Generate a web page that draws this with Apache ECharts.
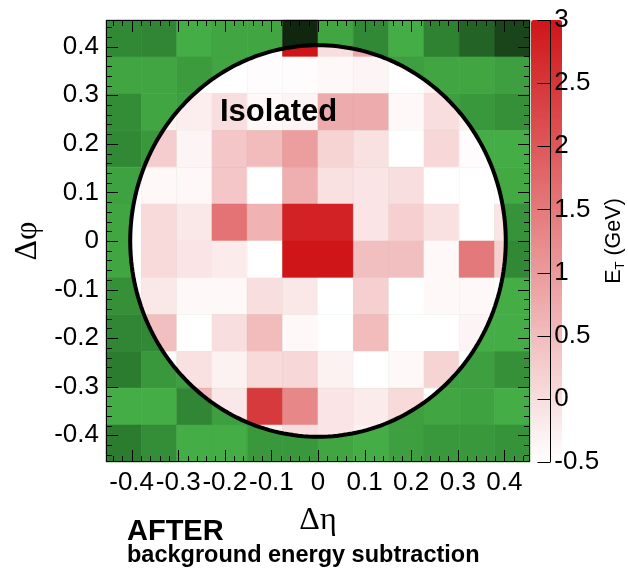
<!DOCTYPE html>
<html>
<head>
<meta charset="utf-8">
<script src="https://cdn.jsdelivr.net/npm/echarts@6/dist/echarts.min.js"></script>
<style>
  html, body { margin: 0; padding: 0; background: #fff; }
  #chart { width: 628px; height: 570px; }
</style>
</head>
<body>
<div id="chart"></div>
<script>
// bin edges (eta left->right, phi top->bottom)
const etaEdges = [-0.455, -0.379, -0.303, -0.2275, -0.152, -0.076, 0, 0.076, 0.152, 0.2275, 0.303, 0.379, 0.455]
const phiEdges = [0.455, 0.379, 0.303, 0.2275, 0.152, 0.076, 0, -0.076, -0.152, -0.2275, -0.303, -0.379, -0.455]

// E_T per cell (GeV), rows top->bottom
const etValues = [
  [-0.5, -0.5, -0.5, -0.5, -0.5, 3.0, 0.0, 0.8, -0.5, -0.5, -0.5, -0.5],
  [-0.5, -0.5, -0.5, -0.5, -0.45, -0.45, -0.4, -0.35, -0.5, -0.3, -0.5, -0.5],
  [-0.5, -0.3, -0.25, 0.0, -0.4, -0.35, 0.75, 0.75, -0.4, 0.0, -0.3, -0.5],
  [-0.5, 0.25, -0.35, 0.35, 0.5, 0.95, 0.15, -0.05, -0.5, 0.1, -0.45, -0.5],
  [-0.5, -0.4, -0.4, 0.35, -0.5, 0.7, -0.05, -0.1, 0.0, -0.5, -0.5, -0.5],
  [-0.5, 0.05, -0.15, 1.6, 0.65, 2.8, 2.8, -0.1, 0.2, -0.05, -0.5, -0.1],
  [-0.5, 0.05, -0.1, -0.2, -0.5, 3.0, 3.0, 0.45, 0.45, -0.4, 1.5, 0.2],
  [-0.5, -0.15, -0.4, -0.4, 0.0, -0.15, -0.5, 0.2, -0.5, -0.4, -0.4, -0.5],
  [-0.5, 0.45, -0.5, 0.0, 0.5, -0.4, -0.5, 0.5, -0.5, -0.5, -0.35, -0.5],
  [-0.5, -0.5, -0.05, -0.3, 0.05, 0.1, -0.3, -0.5, -0.4, 0.15, -0.5, -0.5],
  [-0.5, -0.5, 0.6, -0.15, 2.45, 1.3, -0.1, -0.2, 0.05, -0.5, -0.5, -0.5],
  [-0.5, -0.5, -0.5, -0.5, -0.3, 0.0, -0.1, -0.3, -0.5, -0.5, -0.5, -0.5]
]

// background (outside cone) shade level, 0 = bright green .. 6 = near black
const bgShade = [
  [2.6, 2.7, 0, 0.5, 0.5, 6, 0.5, 2.5, 0, 3, 4, 5],
  [0.5, 0.5, 1.2, 0.5, 1, 1, 1, 1, 1, 0.5, 0.5, 1],
  [2.3, 0.5, 1, 1, 1, 1, 1, 1, 1, 1, 1.5, 2],
  [2.5, 1.5, 1, 1, 1, 1, 1, 1, 1, 1, 0, 0],
  [0.8, 1, 1, 1, 1, 1, 1, 1, 1, 1, 1, 0.3],
  [0.5, 1, 1, 1, 1, 1, 1, 1, 1, 1, 1, 1.8],
  [0.5, 1, 1, 1, 1, 1, 1, 1, 1, 1, 1, 2.5],
  [2, 1, 1, 1, 1, 1, 1, 1, 1, 1, 1, 0],
  [2.7, 2.5, 1, 1, 1, 1, 1, 1, 1, 1, 0, 0],
  [3.2, 1.5, 1, 1, 1, 1, 1, 1, 1, 1, 1, 2],
  [0, 0, 2.7, 1, 1, 1, 1, 1, 1, 0.5, 0.8, 0],
  [3.2, 2.2, 0, 0, 1.5, 1.5, 0.5, 0, 1, 1.5, 1.5, 1.8]
]

const coneRadius = 0.403
const axisLimit = 0.455
const majorTicks = [-0.4, -0.3, -0.2, -0.1, 0, 0.1, 0.2, 0.3, 0.4]
const minorTicks = [-0.44, -0.42, -0.38, -0.36, -0.34, -0.32, -0.28, -0.26, -0.24, -0.22, -0.18, -0.16, -0.14, -0.12,
  -0.08, -0.06, -0.04, -0.02, 0.02, 0.04, 0.06, 0.08, 0.12, 0.14, 0.16, 0.18, 0.22, 0.24, 0.26, 0.28,
  0.32, 0.34, 0.36, 0.38, 0.42, 0.44]
const colorbarTicks = [-0.5, 0, 0.5, 1, 1.5, 2, 2.5, 3]

const FONT = "'Liberation Sans', Arial, sans-serif"
const SERIF = "'Liberation Serif', 'DejaVu Serif', serif"

function toCells(grid) {
  const out = []
  grid.forEach((row, r) => row.forEach((v, c) => {
    out.push([etaEdges[c], etaEdges[c + 1], phiEdges[r + 1], phiEdges[r], v])
  }))
  return out
}

function conePoints(api) {
  const pts = []
  for (let i = 0; i < 240; i++) {
    const a = i / 240 * 2 * Math.PI
    pts.push(api.coord([coneRadius * Math.cos(a), coneRadius * Math.sin(a)]))
  }
  return pts
}

// Sutherland-Hodgman: cut a cell polygon down to the part inside the (convex) cone
function clipToPolygon(subject, clip) {
  const c = clip.reduce((s, p) => [s[0] + p[0] / clip.length, s[1] + p[1] / clip.length], [0, 0])
  let out = subject
  for (let i = 0; i < clip.length && out.length; i++) {
    const a = clip[i]
    const b = clip[(i + 1) % clip.length]
    const side = (p) => (b[0] - a[0]) * (p[1] - a[1]) - (b[1] - a[1]) * (p[0] - a[0])
    const ref = side(c)
    const inside = (p) => side(p) * ref >= 0
    const cross = (p, q) => {
      const sp = side(p), sq = side(q)
      const t = sp / (sp - sq)
      return [p[0] + (q[0] - p[0]) * t, p[1] + (q[1] - p[1]) * t]
    }
    const input = out
    out = []
    for (let j = 0; j < input.length; j++) {
      const p = input[j]
      const q = input[(j + 1) % input.length]
      if (inside(q)) {
        if (!inside(p)) out.push(cross(p, q))
        out.push(q)
      } else if (inside(p)) {
        out.push(cross(p, q))
      }
    }
  }
  return out
}

function cellItem(insideCone) {
  return (params, api) => {
    const p0 = api.coord([api.value(0), api.value(3)])
    const p1 = api.coord([api.value(1), api.value(2)])
    const color = api.visual('color')
    const style = { fill: color, stroke: color, lineWidth: 0.6 }
    if (!insideCone) {
      return { type: 'rect', shape: { x: p0[0], y: p0[1], width: p1[0] - p0[0], height: p1[1] - p0[1] }, style }
    }
    const rect = [[p0[0], p0[1]], [p1[0], p0[1]], [p1[0], p1[1]], [p0[0], p1[1]]]
    const pts = clipToPolygon(rect, conePoints(api))
    if (pts.length < 3) return null
    return { type: 'polygon', shape: { points: pts }, style }
  }
}

// one tick mark per data item: [value, side, length]
const tickData = []
majorTicks.forEach((v) => ['b', 't', 'l', 'r'].forEach((s) => tickData.push([v, s, 12])))
minorTicks.forEach((v) => ['b', 't', 'l', 'r'].forEach((s) => tickData.push([v, s, 6])))

function tickItem(params, api) {
  const item = tickData[params.dataIndex]
  const v = item[0], side = item[1], len = item[2]
  const lo = api.coord([-axisLimit, -axisLimit])
  const hi = api.coord([axisLimit, axisLimit])
  let x1, y1, x2, y2
  if (side === 'b' || side === 't') {
    x1 = x2 = Math.round(api.coord([v, 0])[0]) + 0.5
    y1 = side === 'b' ? lo[1] : hi[1]
    y2 = side === 'b' ? y1 - len : y1 + len
  } else {
    y1 = y2 = Math.round(api.coord([0, v])[1]) + 0.5
    x1 = side === 'l' ? lo[0] : hi[0]
    x2 = side === 'l' ? x1 + len : x1 - len
  }
  return { type: 'line', shape: { x1, y1, x2, y2 }, style: { stroke: '#000', lineWidth: 1 } }
}

function colorbarAxisItem(params, api) {
  const v = api.value(1)
  const right = api.coord([1, v])
  const x = Math.round(right[0]) - 0.5
  const y = Math.round(right[1]) + 0.5
  const children = [{ type: 'line', shape: { x1: x, y1: y, x2: x - 13, y2: y }, style: { stroke: '#000', lineWidth: 1 } }]
  if (params.dataIndex === 0) {
    const top = api.coord([1, 3])
    children.push({ type: 'line', shape: { x1: x, y1: top[1], x2: x, y2: right[1] }, style: { stroke: '#000', lineWidth: 1 } })
  }
  return { type: 'group', children }
}

const labelStyle = { fontFamily: FONT, fontSize: 26, color: '#000' }

const chart = echarts.init(document.getElementById('chart'))
chart.setOption({
  animation: false,
  backgroundColor: '#fff',
  grid: [
    { left: 106, top: 20, width: 424, height: 442 },
    { left: 531, top: 20, width: 31, height: 442 },
  ],
  xAxis: [
    {
      gridIndex: 0,
      type: 'value',
      min: -axisLimit,
      max: axisLimit,
      axisLine: { show: false, onZero: false },
      axisTick: { show: false },
      splitLine: { show: false },
      axisLabel: Object.assign({ customValues: majorTicks, margin: 8 }, labelStyle),
      name: 'Δη',
      nameLocation: 'middle',
      nameGap: 43,
      nameTextStyle: { fontFamily: SERIF, fontSize: 32, color: '#000' },
    },
    { gridIndex: 1, type: 'value', show: false, min: 0, max: 1, axisLine: { onZero: false } },
  ],
  yAxis: [
    {
      gridIndex: 0,
      type: 'value',
      min: -axisLimit,
      max: axisLimit,
      axisLine: { show: false, onZero: false },
      axisTick: { show: false },
      splitLine: { show: false },
      axisLabel: Object.assign({ customValues: majorTicks, margin: 7 }, labelStyle),
      name: 'Δφ',
      nameLocation: 'middle',
      nameRotate: 90,
      nameGap: 62,
      nameTextStyle: { fontFamily: SERIF, fontSize: 32, color: '#000' },
    },
    {
      gridIndex: 1,
      type: 'value',
      position: 'right',
      min: -0.5,
      max: 3,
      interval: 0.5,
      z: 8,
      axisLine: { show: false, onZero: false },
      axisTick: { show: false },
      splitLine: { show: false },
      axisLabel: Object.assign({ margin: 3 }, labelStyle),
      name: '{e|E}{t|T}{e| (GeV)}',
      nameLocation: 'middle',
      nameRotate: 90,
      nameGap: 38,
      nameTextStyle: {
        color: '#000',
        rich: {
          e: { fontFamily: FONT, fontSize: 21.5, color: '#000' },
          t: { fontFamily: FONT, fontSize: 13, color: '#000', verticalAlign: 'bottom', padding: [13, 0, 0, 0] },
        },
      },
    },
  ],
  visualMap: [
    {
      type: 'continuous',
      seriesIndex: 0,
      dimension: 4,
      min: 0,
      max: 6,
      show: false,
      inRange: { color: ['#45ad45', '#2e8232', '#10260f'] },
    },
    {
      type: 'continuous',
      seriesIndex: 1,
      dimension: 4,
      min: -0.5,
      max: 3,
      show: true,
      orient: 'vertical',
      left: 531,
      top: 20,
      padding: 0,
      itemWidth: 31,
      itemHeight: 442,
      calculable: false,
      hoverLink: false,
      inRange: { color: ['#ffffff', '#d01518'] },
    },
  ],
  series: [
    {
      name: 'background',
      type: 'custom',
      xAxisIndex: 0,
      yAxisIndex: 0,
      z: 1,
      encode: { x: [0, 1], y: [2, 3] },
      renderItem: cellItem(false),
      data: toCells(bgShade),
    },
    {
      name: 'E_T',
      type: 'custom',
      xAxisIndex: 0,
      yAxisIndex: 0,
      z: 2,
      encode: { x: [0, 1], y: [2, 3] },
      renderItem: cellItem(true),
      data: toCells(etValues),
    },
    {
      name: 'cone',
      type: 'custom',
      xAxisIndex: 0,
      yAxisIndex: 0,
      z: 3,
      encode: { x: 0, y: 1 },
      renderItem: (params, api) => ({
        type: 'polygon',
        shape: { points: conePoints(api) },
        style: { fill: 'none', stroke: '#000', lineWidth: 4 },
      }),
      data: [[0, 0]],
    },
    {
      name: 'frame',
      type: 'custom',
      xAxisIndex: 0,
      yAxisIndex: 0,
      z: 6,
      clip: false,
      silent: true,
      renderItem: (params, api) => {
        const lo = api.coord([-axisLimit, -axisLimit])
        const hi = api.coord([axisLimit, axisLimit])
        return {
          type: 'rect',
          shape: { x: Math.round(lo[0]) + 0.5, y: Math.round(hi[1]) + 0.5, width: Math.round(hi[0] - lo[0]) - 1, height: Math.round(lo[1] - hi[1]) - 1 },
          style: { fill: 'none', stroke: '#000', lineWidth: 1 },
        }
      },
      data: [[0, 0]],
    },
    {
      name: 'ticks',
      type: 'custom',
      xAxisIndex: 0,
      yAxisIndex: 0,
      z: 6,
      clip: false,
      silent: true,
      renderItem: tickItem,
      data: tickData.map(() => [0, 0]),
    },
    {
      name: 'colorbar axis',
      type: 'custom',
      xAxisIndex: 1,
      yAxisIndex: 1,
      z: 6,
      clip: false,
      silent: true,
      encode: { x: 0, y: 1 },
      renderItem: colorbarAxisItem,
      data: colorbarTicks.map((v) => [1, v]),
    },
  ],
  graphic: [
    { type: 'text', left: 220, top: 97, z: 10, style: { text: 'Isolated', fontFamily: FONT, fontWeight: 'bold', fontSize: 31, fill: '#000' } },
    { type: 'text', left: 127, top: 517, z: 10, style: { text: 'AFTER', fontFamily: FONT, fontWeight: 'bold', fontSize: 29, fill: '#000' } },
    { type: 'text', left: 127, top: 544, z: 10, style: { text: 'background energy subtraction', fontFamily: FONT, fontWeight: 'bold', fontSize: 23.5, fill: '#000' } },
  ],
})
</script>
</body>
</html>
